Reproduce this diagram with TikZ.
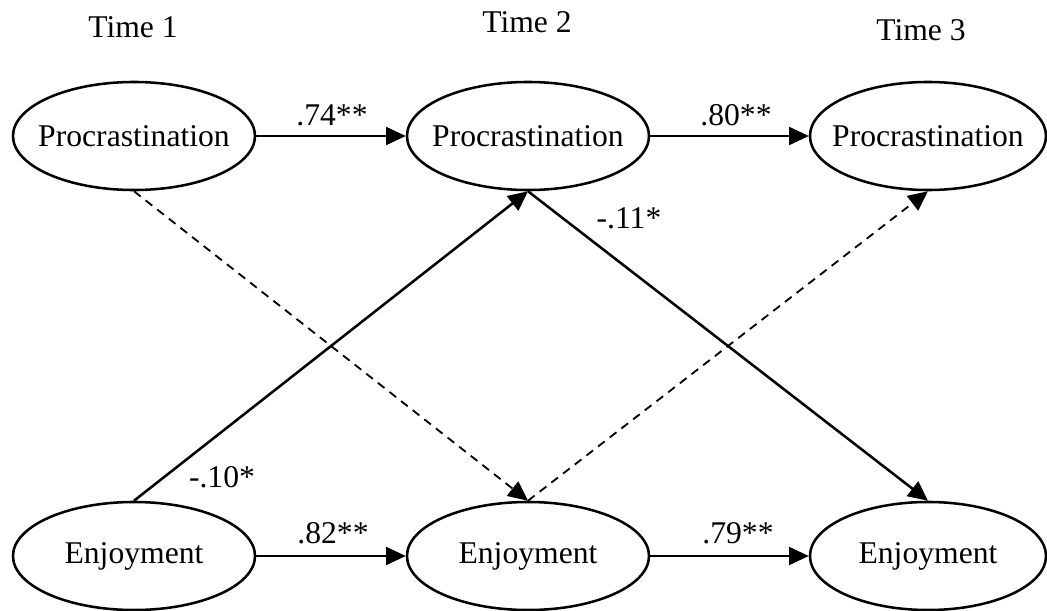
\documentclass[tikz,border=0pt]{standalone}
\usepackage{fontspec}
\setmainfont{Liberation Serif}
\usetikzlibrary{arrows.meta, positioning, shapes.geometric}

\begin{document}
\begin{tikzpicture}[x=0.025cm, y=-0.025cm,
  every node/.style={font=\fontsize{22.5}{27}\selectfont},
  latent/.style={draw, ellipse, line width=1.8pt, minimum width=6.05cm, minimum height=2.7cm, inner xsep=-1.5cm, inner ysep=0pt},
  path/.style={line width=0.9pt, -{Triangle[length=14pt, width=13pt]}},
  cross/.style={line width=1.8pt, -{Triangle[length=14pt, width=13pt]}},
  crossdash/.style={line width=1.3pt, dash pattern=on 6pt off 4.5pt, -{Triangle[length=14pt, width=13pt]}}]

\useasboundingbox (0,0) rectangle (1047,611);

\node (t1) at (133,27) {Time 1};
\node (t2) at (527,22) {Time 2};
\node (t3) at (921,30) {Time 3};

\node[latent] (p1) at (134,136) {Procrastination};
\node[latent] (p2) at (528,136) {Procrastination};
\node[latent, minimum width=5.9cm] (p3) at (928,136) {Procrastination};

\node[latent] (e1) at (134,556) {Enjoyment};
\node[latent] (e2) at (528,556) {Enjoyment};
\node[latent, minimum width=5.9cm] (e3) at (928,556) {Enjoyment};

\draw[path] (p1) -- (p2);
\draw[path] (p2) -- (p3);
\draw[path] (e1) -- (e2);
\draw[path] (e2) -- (e3);

\draw[cross] (e1.north) -- (p2.south);
\draw[cross] (p2.south) -- (e3.north);
\draw[crossdash] (p1.south) -- (e2.north);
\draw[crossdash] (e2.north) -- (p3.south);

\node (b1) at (332,115) {.74**};
\node (b2) at (736,115) {.80**};
\node (b3) at (333,533) {.82**};
\node (b4) at (738,533) {.79**};
\node (c1) at (222,477) {-.10*};
\node (c2) at (629,218) {-.11*};

\end{tikzpicture}
\end{document}
